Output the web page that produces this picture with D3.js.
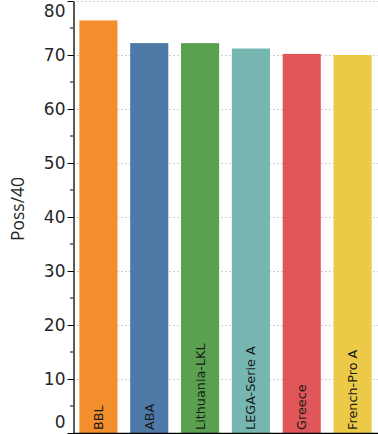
<!DOCTYPE html>
<html>
<head>
<meta charset="utf-8">
<script src="https://cdn.jsdelivr.net/npm/d3@7"></script>
<style>
  body { margin: 0; background: #fff; }
  svg { display: block; }
</style>
</head>
<body>
<svg id="chart" width="378" height="434"></svg>
<script>
var leagues = ["BBL", "ABA", "Lithuania-LKL", "LEGA-Serie A", "Greece", "French-Pro A"];
var poss40 = [76.4, 72.2, 72.2, 71.2, 70.2, 70.0];
var colors = ["#f28e2b", "#4e79a7", "#59a14f", "#76b7b2", "#e15759", "#edc948"];
var yTicks = [0, 10, 20, 30, 40, 50, 60, 70, 80];

var width = 378, height = 434;
var margin = {top: 1, right: 0, bottom: 1, left: 73};

var svg = d3.select("#chart");

var x = d3.scaleBand()
  .domain(leagues)
  .range([margin.left, width - margin.right])
  .paddingInner(0.25)
  .paddingOuter(0.125);

var y = d3.scaleLinear()
  .domain([0, 80])
  .range([height - margin.bottom, margin.top]);

// grid
svg.append("g")
  .selectAll("line")
  .data(yTicks)
  .join("line")
  .attr("x1", margin.left)
  .attr("x2", width)
  .attr("y1", function(d) { return y(d) + 0.5; })
  .attr("y2", function(d) { return y(d) + 0.5; })
  .attr("stroke", "#cfcfcf")
  .attr("stroke-width", 1)
  .attr("stroke-dasharray", "2,2");

// bars
svg.append("g")
  .selectAll("rect")
  .data(leagues)
  .join("rect")
  .attr("x", function(d) { return x(d); })
  .attr("width", x.bandwidth())
  .attr("y", function(d, i) { return y(poss40[i]); })
  .attr("height", function(d, i) { return y(0) - y(poss40[i]); })
  .attr("fill", function(d, i) { return colors[i]; });

// labels inside bars
svg.append("g")
  .selectAll("text")
  .data(leagues)
  .join("text")
  .attr("transform", function(d) {
    return "translate(" + (x(d) + x.bandwidth() / 2) + "," + (height - 4) + ") rotate(-90)";
  })
  .attr("dy", "0.35em")
  .attr("font-family", "DejaVu Sans")
  .attr("font-size", 12.8)
  .attr("fill", "#1a1a1a")
  .text(function(d) { return d; });

// y axis
var yAxis = svg.append("g")
  .attr("transform", "translate(" + (margin.left + 0.5) + ",0)")
  .call(d3.axisLeft(y).tickValues(yTicks).tickSize(6).tickPadding(2).tickSizeOuter(0));
yAxis.select(".domain").attr("stroke", "#000").attr("stroke-width", 1.3);
yAxis.selectAll(".tick line").attr("stroke", "#000");
yAxis.selectAll(".tick text")
  .attr("font-family", "DejaVu Sans")
  .attr("font-size", 17)
  .attr("fill", "#262626")
  .attr("dy", function(d) { return d === 0 ? "-0.3em" : d === 80 ? "0.9em" : "0.32em"; });

// minor ticks
svg.append("g")
  .selectAll("line")
  .data(d3.range(5, 80, 10))
  .join("line")
  .attr("x1", margin.left - 3)
  .attr("x2", margin.left)
  .attr("y1", function(d) { return y(d); })
  .attr("y2", function(d) { return y(d); })
  .attr("stroke", "#000");

// bottom spine
svg.append("line")
  .attr("x1", margin.left)
  .attr("x2", width)
  .attr("y1", y(0) + 0.5)
  .attr("y2", y(0) + 0.5)
  .attr("stroke", "#000")
  .attr("stroke-width", 1.3);

// y label
svg.append("text")
  .attr("transform", "translate(18," + 209 + ") rotate(-90)")
  .attr("text-anchor", "middle")
  .attr("dy", "0.35em")
  .attr("font-family", "Open Sans")
  .attr("font-size", 17.5)
  .attr("fill", "#262626")
  .text("Poss/40");
</script>
</body>
</html>
